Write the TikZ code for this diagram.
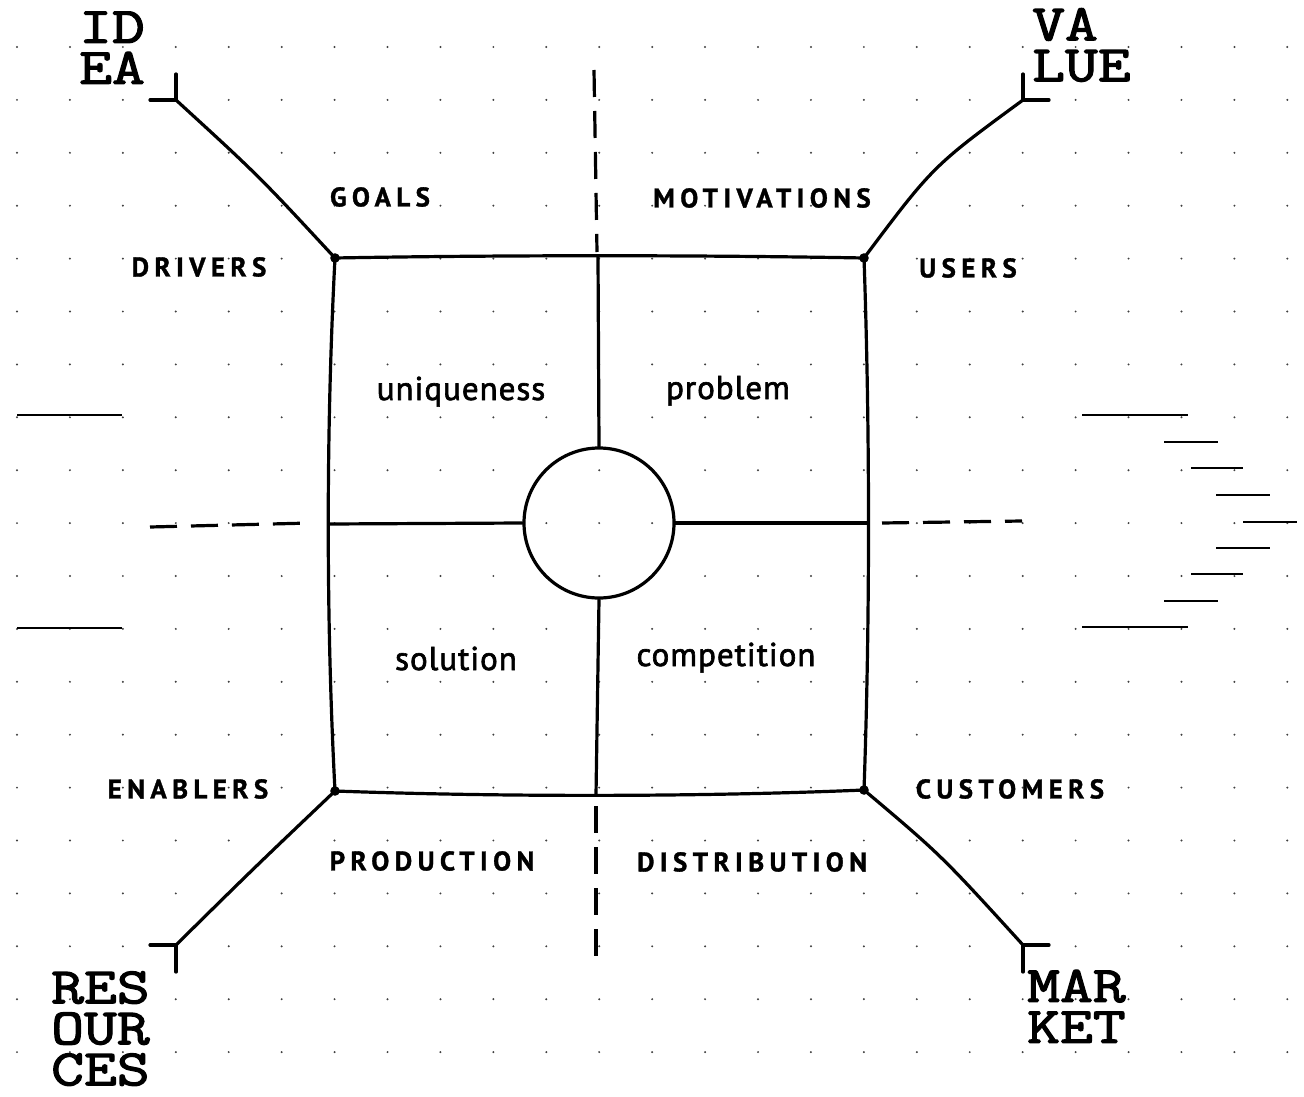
\documentclass[tikz,border=0pt]{standalone}
\usepackage{fontspec}
\newfontfamily\capsfont[LetterSpace=20, FakeBold=1.2]{PT Sans}
\newfontfamily\handfont[LetterSpace=3, FakeBold=2]{PT Sans}
\newfontfamily\typefont[FakeBold=2.5, FakeStretch=1.25]{Latin Modern Mono}
\tikzset{
  edge/.style={line width=3.2pt, line cap=round, line join=round},
  dashline/.style={line width=3.2pt, dash pattern=on 27pt off 14pt},
  sideline/.style={line width=1.8pt},
  gridpt/.style={fill=black!75},
  caplabel/.style={font=\capsfont\bfseries\fontsize{27}{30}\selectfont, inner sep=0pt},
  handlabel/.style={font=\handfont\fontsize{33}{38}\selectfont, inner sep=0pt, anchor=base},
  cornerlabel/.style={font=\typefont\fontsize{51}{41}\selectfont, align=left, inner sep=0pt, anchor=south west},
  hubstyle/.style={circle, draw, line width=3.2pt, minimum size=150pt, inner sep=0pt}
}
\begin{document}
\begin{tikzpicture}[x=1pt,y=-1pt]
\useasboundingbox[fill=white] (0,0) rectangle (1304,1097);
% dot grid
\foreach \i in {0,...,24}
  \foreach \j in {0,...,19}
    \fill[gridpt] ({17+52.93*\i},{47+52.9*\j}) circle[radius=1.1pt];

% corners of the square
\coordinate (tl) at (335,258);
\coordinate (tr) at (864,258);
\coordinate (bl) at (335,791);
\coordinate (br) at (864,790);

% hub
\node[hubstyle] (hub) at (599,523) {};

% square edges
\draw[edge] (tl) .. controls (500,255) and (700,255) .. (tr);
\draw[edge] (bl) .. controls (500,797) and (700,797) .. (br);
\draw[edge] (tl) .. controls (326,430) and (326,620) .. (bl);
\draw[edge] (tr) .. controls (870,430) and (870,620) .. (br);

\foreach \c in {tl,tr,bl,br} \fill (\c) circle[radius=4.8pt];

% inner cross
\coordinate (topmid) at (598,257);
\coordinate (botmid) at (596,795);
\coordinate (leftmid) at (329,524);
\coordinate (rightmid) at (868,523);
\draw[edge] (topmid) -- (hub.north);
\draw[edge] (hub.south) -- (botmid);
\draw[edge] (leftmid) -- (hub.west);
\draw[edge] (hub.east) -- (rightmid);

% dashed extensions
\coordinate (dtop) at (594,70);
\coordinate (dtopend) at (597,252);
\coordinate (dbot) at (596,806);
\coordinate (dbotend) at (596,960);
\coordinate (dleft) at (150,527);
\coordinate (dleftend) at (311,523);
\coordinate (dright) at (882,523);
\coordinate (drightend) at (1022,521);
\draw[dashline] (dtop) -- (dtopend);
\draw[dashline] (dbot) -- (dbotend);
\draw[dashline] (dleft) -- (dleftend);
\draw[dashline] (dright) -- (drightend);

% corner brackets and diagonals
\coordinate (ideaC) at (176,100);
\coordinate (valueC) at (1023,100);
\coordinate (resC) at (176,945);
\coordinate (marketC) at (1023,945);
\draw[edge] (150,100) -- (ideaC) -- (176,74);
\draw[edge] (1049,100) -- (valueC) -- (1023,74);
\draw[edge] (150,945) -- (resC) -- (176,972);
\draw[edge] (1049,945) -- (marketC) -- (1023,972);

\draw[edge] (ideaC) .. controls (259,176) .. (tl);
\draw[edge] (valueC) .. controls (933,166) .. (tr);
\draw[edge] (resC) .. controls (253,869) .. (bl);
\draw[edge] (marketC) .. controls (941,855) .. (br);

% side bars
\draw[sideline] (17,415) -- (122,415);
\draw[sideline] (17,628) -- (122,628);
\draw[sideline] (1082,415) -- (1188,415);
\draw[sideline] (1164,442) -- (1218,442);
\draw[sideline] (1191,468) -- (1243,468);
\draw[sideline] (1216,495) -- (1270,495);
\draw[sideline] (1243,522) -- (1297,522);
\draw[sideline] (1216,548) -- (1270,548);
\draw[sideline] (1191,574) -- (1243,574);
\draw[sideline] (1164,601) -- (1218,601);
\draw[sideline] (1082,627) -- (1188,627);

% corner titles
\node[cornerlabel] (idea) at (79,84) {ID\\EA};
\node[cornerlabel] (value) at (1032,82) {VA\\LUE};
\node[cornerlabel] (resources) at (51,1086) {RES\\OUR\\CES};
\node[cornerlabel] (market) at (1027,1043) {MAR\\KET};

% caps labels
\node[caplabel] (goals) at (380,197) {GOALS};
\node[caplabel] (motiv) at (762,198) {MOTIVATIONS};
\node[caplabel] (drivers) at (199,267) {DRIVERS};
\node[caplabel] (users) at (968,268) {USERS};
\node[caplabel] (enablers) at (188,789) {ENABLERS};
\node[caplabel] (customers) at (1010,789) {CUSTOMERS};
\node[caplabel] (production) at (432,861) {PRODUCTION};
\node[caplabel] (distribution) at (752,862) {DISTRIBUTION};

% quadrant labels
\node[handlabel] (uniq) at (461,400) {uniqueness};
\node[handlabel] (problem) at (728,399) {problem};
\node[handlabel] (solution) at (456,670) {solution};
\node[handlabel] (competition) at (726,666) {competition};
\end{tikzpicture}
\end{document}
